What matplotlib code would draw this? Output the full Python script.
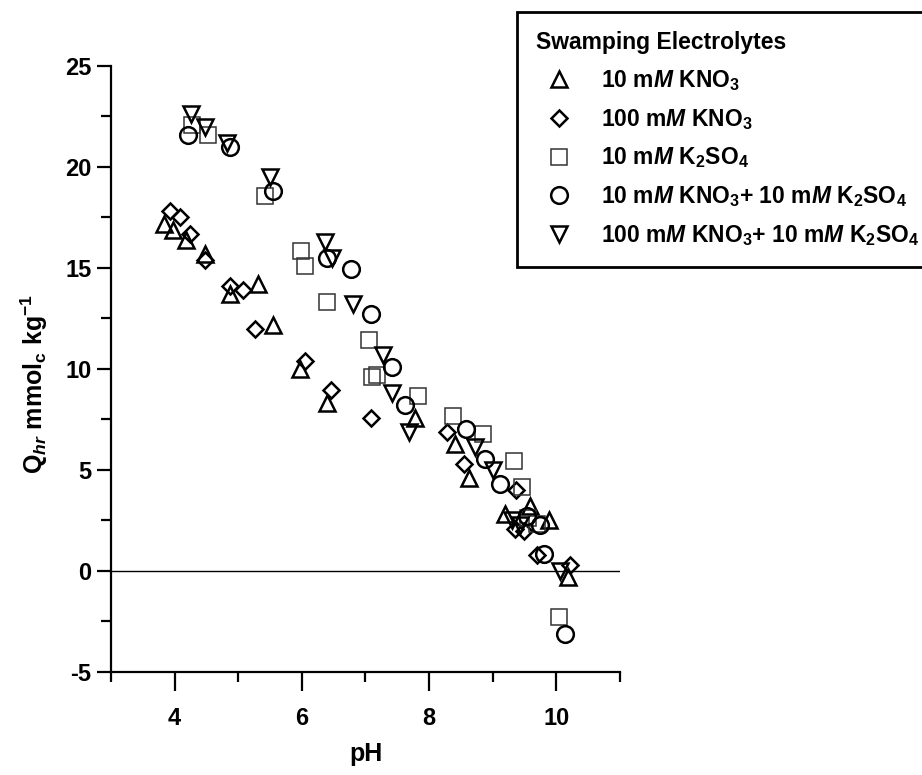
import matplotlib
matplotlib.use("Agg")
import matplotlib.pyplot as plt
from matplotlib.ticker import MultipleLocator

plt.rcParams["font.family"] = ["Liberation Sans", "DejaVu Sans"]
plt.rcParams["font.weight"] = "bold"
plt.rcParams["axes.unicode_minus"] = False
plt.rcParams["mathtext.fontset"] = "custom"
plt.rcParams["mathtext.rm"] = "Liberation Sans:bold"
plt.rcParams["mathtext.it"] = "Liberation Sans:italic:bold"
plt.rcParams["mathtext.bf"] = "Liberation Sans:bold"

# 10 mM KNO3
ph_a = [3.84, 3.97, 4.18, 4.47, 4.87, 5.31, 5.55, 5.97, 6.40, 7.78, 8.41, 8.62, 9.20, 9.59, 9.88, 10.19]
q_a = [17.2, 16.9, 16.4, 15.7, 13.7, 14.2, 12.2, 10.0, 8.3, 7.55, 6.3, 4.6, 2.8, 3.2, 2.5, -0.3]

# 100 mM KNO3
ph_b = [3.92, 4.08, 4.24, 4.47, 4.87, 5.08, 5.26, 6.05, 6.46, 7.09, 8.28, 8.55, 9.37, 9.35, 9.49, 9.70, 10.21]
q_b = [17.8, 17.5, 16.7, 15.4, 14.1, 13.9, 12.0, 10.4, 8.95, 7.55, 6.9, 5.3, 4.0, 2.1, 2.0, 0.8, 0.3]

# 10 mM K2SO4
ph_c = [4.28, 4.52, 5.42, 5.98, 6.05, 6.40, 7.06, 7.10, 7.18, 7.83, 8.37, 8.85, 9.33, 9.46, 9.56, 9.70, 10.04]
q_c = [22.1, 21.6, 18.55, 15.85, 15.1, 13.3, 11.45, 9.6, 9.7, 8.65, 7.65, 6.8, 5.45, 4.15, 2.6, 2.35, -2.3]

# 10 mM KNO3 + 10 mM K2SO4
ph_d = [4.21, 4.87, 5.55, 6.39, 6.78, 7.08, 7.41, 7.62, 8.58, 8.88, 9.12, 9.54, 9.75, 9.80, 10.14]
q_d = [21.6, 21.0, 18.8, 15.5, 14.95, 12.7, 10.1, 8.2, 7.05, 5.55, 4.3, 2.7, 2.3, 0.85, -3.1]

# 100 mM KNO3 + 10 mM K2SO4
ph_e = [4.26, 4.47, 4.82, 5.50, 6.36, 6.48, 6.80, 7.27, 7.41, 7.69, 8.72, 9.00, 9.30, 9.43, 10.06]
q_e = [22.6, 22.0, 21.2, 19.5, 16.3, 15.5, 13.2, 10.7, 8.8, 6.9, 6.15, 5.0, 2.5, 2.3, 0.0]

labels = [
    r"10 m$\mathit{M}$ KNO$_3$",
    r"100 m$\mathit{M}$ KNO$_3$",
    r"10 m$\mathit{M}$ K$_2$SO$_4$",
    r"10 m$\mathit{M}$ KNO$_3$+ 10 m$\mathit{M}$ K$_2$SO$_4$",
    r"100 m$\mathit{M}$ KNO$_3$+ 10 m$\mathit{M}$ K$_2$SO$_4$",
]

fig = plt.figure(figsize=(9.22, 7.75), dpi=100)
ax = fig.add_axes([0.1204, 0.1329, 0.552, 0.782])

ax.axhline(0, color="black", lw=1.0, zorder=1)

ax.plot(ph_a, q_a, ls="none", marker="^", ms=12, mfc="none", mec="black", mew=1.8, label=labels[0])
ax.plot(ph_b, q_b, ls="none", marker="D", ms=8.5, mfc="none", mec="black", mew=1.8, label=labels[1])
ax.plot(ph_c, q_c, ls="none", marker="s", ms=12, mfc="none", mec="#333333", mew=1.1, label=labels[2])
ax.plot(ph_d, q_d, ls="none", marker="o", ms=12, mfc="none", mec="black", mew=1.8, label=labels[3])
ax.plot(ph_e, q_e, ls="none", marker="v", ms=12, mfc="none", mec="black", mew=1.8, label=labels[4])

ax.set_xlim(3, 11)
ax.set_ylim(-5, 25)
ax.set_xticks([4, 6, 8, 10])
ax.xaxis.set_minor_locator(MultipleLocator(1))
ax.yaxis.set_major_locator(MultipleLocator(5))
ax.yaxis.set_minor_locator(MultipleLocator(2.5))

for side in ["top", "right"]:
    ax.spines[side].set_visible(False)
for side in ["left", "bottom"]:
    ax.spines[side].set_linewidth(1.6)

ax.tick_params(axis="x", which="major", length=14, width=1.6, pad=11, labelsize=17)
ax.tick_params(axis="y", which="major", length=10, width=1.6, pad=4, labelsize=17)
ax.tick_params(which="minor", length=7, width=1.6)

ax.set_xlabel("pH", fontsize=18, fontweight="bold")
ax.set_ylabel(r"Q$_{\mathit{hr}}$ mmol$_\mathrm{c}$ kg$^{\mathrm{-1}}$", fontsize=18, fontweight="bold")
ax.xaxis.set_label_coords(0.5, -0.115)
ax.yaxis.set_label_coords(-0.12, 0.475)

leg = fig.legend(loc="upper left", bbox_to_anchor=(517 / 922, 1 - 12 / 775),
                 title="Swamping Electrolytes", alignment="left",
                 title_fontproperties={"weight": "bold", "size": 16.5},
                 prop={"weight": "bold", "size": 16.5},
                 frameon=True, fancybox=False, edgecolor="black", framealpha=1,
                 borderpad=0.85, handlelength=2.0, handletextpad=0.8,
                 labelspacing=0.6, borderaxespad=0, numpoints=1)
leg.get_frame().set_linewidth(2)

fig.savefig("out.png", dpi=100)
